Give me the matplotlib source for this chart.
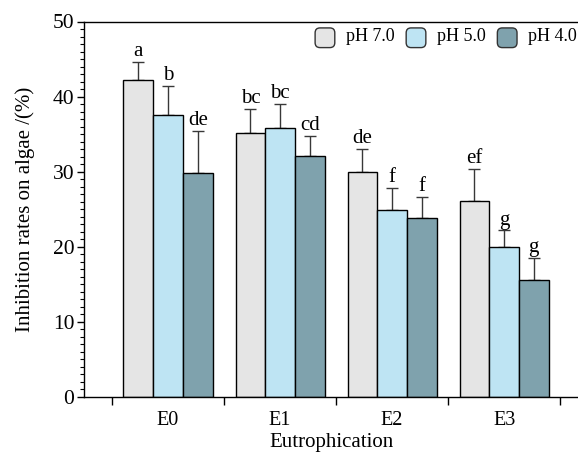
import matplotlib.pyplot as plt
import numpy as np
from matplotlib.patches import FancyBboxPatch
from matplotlib.legend_handler import HandlerPatch

plt.rcParams['font.family'] = ['Liberation Serif', 'DejaVu Serif']

groups = ["E0", "E1", "E2", "E3"]
series = ["pH 7.0", "pH 5.0", "pH 4.0"]
ph70 = [42.2, 35.1, 30.0, 26.1]
ph50 = [37.5, 35.8, 24.9, 20.0]
ph40 = [29.8, 32.1, 23.8, 15.6]
err70 = [2.4, 3.3, 3.0, 4.3]
err50 = [3.9, 3.2, 2.9, 2.2]
err40 = [5.6, 2.7, 2.8, 2.9]
letters70 = ["a", "bc", "de", "ef"]
letters50 = ["b", "bc", "f", "g"]
letters40 = ["de", "cd", "f", "g"]

colors = ["#e5e5e5", "#bee4f3", "#7fa2ad"]


class RoundHandler(HandlerPatch):
    def create_artists(self, legend, orig_handle, xdescent, ydescent,
                       width, height, fontsize, trans):
        s = min(width, height)
        p = FancyBboxPatch((-xdescent + (width - s) / 2, -ydescent - s * 0.15), s, s,
                           boxstyle="round,pad=0,rounding_size=%f" % (s * 0.25),
                           facecolor=orig_handle.get_facecolor(),
                           edgecolor="#333333", linewidth=1.0, transform=trans)
        return [p]


fig = plt.figure(figsize=(5.78, 4.53), dpi=100)
ax = fig.add_axes([84 / 578, 56 / 453, 494 / 578, 375.5 / 453])

x = np.arange(len(groups))
w = 0.265
vals = [ph70, ph50, ph40]
errs = [err70, err50, err40]
lets = [letters70, letters50, letters40]
handles = []
for i in range(3):
    xs = x + (i - 1) * w
    b = ax.bar(xs, vals[i], w, color=colors[i], edgecolor="black",
               linewidth=1.0, label=series[i], zorder=2)
    handles.append(b[0])
    ax.errorbar(xs, vals[i], yerr=[np.zeros(4), errs[i]], fmt="none",
                ecolor="#383838", elinewidth=1.0, capsize=4, capthick=1.0,
                zorder=1)
    for xi, v, e, t in zip(xs, vals[i], errs[i], lets[i]):
        ax.text(xi, v + e + 0.1, t, ha="center", va="bottom", fontsize=15)

ax.set_xlim(-0.75, 3.66)
ax.set_ylim(0, 50)
ax.set_yticks(np.arange(0, 51, 10))
ax.set_yticks(np.arange(0, 51, 1), minor=True)
ax.tick_params(axis="y", which="major", direction="out", length=5,
               width=1, labelsize=15.5, pad=2)
ax.tick_params(axis="y", which="minor", direction="out", length=3, width=0.8)

ax.set_xticks(np.arange(-0.5, 4, 1))
ax.set_xticklabels([])
ax.set_xticks(x, minor=True)
ax.set_xticklabels(groups, minor=True)
ax.tick_params(axis="x", which="major", direction="out", length=6, width=1)
ax.tick_params(axis="x", which="minor", length=0, labelsize=14.5, pad=10)

ax.spines["right"].set_visible(False)
for s in ["left", "bottom", "top"]:
    ax.spines[s].set_linewidth(1.0)

ax.set_ylabel("Inhibition rates on algae /(%)", fontsize=15, labelpad=13)
ax.set_xlabel("Eutrophication", fontsize=15, labelpad=2)

ax.legend(handles=handles, labels=series, loc="upper right",
          bbox_to_anchor=(1.012, 1.01), ncol=3, frameon=False, fontsize=13,
          handlelength=1.3, handleheight=1.3, handletextpad=0.5,
          columnspacing=0.55, borderaxespad=0.1, borderpad=0.3,
          handler_map={plt.Rectangle: RoundHandler()})

fig.savefig("out.png", dpi=100)
